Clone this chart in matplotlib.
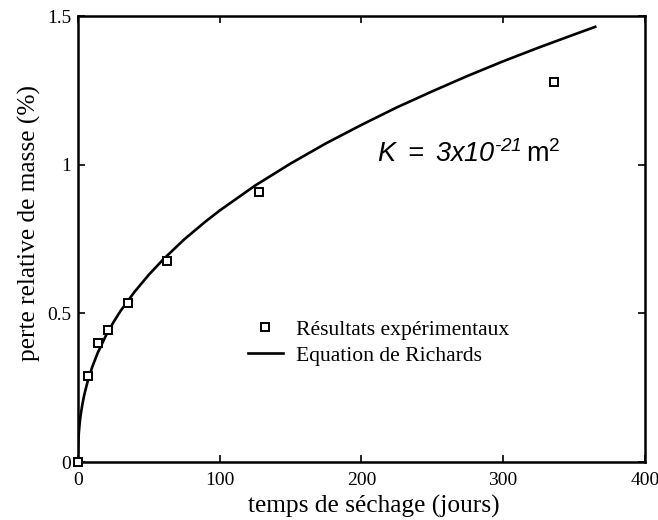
import matplotlib
matplotlib.use("Agg")
import matplotlib.pyplot as plt

# Experimental data
days_exp = [0, 7, 14, 21, 35, 63, 128, 336]
loss_exp = [0.0, 0.29, 0.40, 0.445, 0.535, 0.675, 0.91, 1.28]

# Richards equation curve
days_fit = [0, 0.1, 0.3, 0.6, 1, 1.5, 2, 3, 4, 5, 7, 10, 14, 20, 25, 30, 40, 50, 60, 75,
            90, 100, 125, 150, 175, 200, 225, 250, 275, 300, 325, 350, 365]
loss_fit = [0.0, 0.045, 0.072, 0.097, 0.120, 0.143, 0.161, 0.191, 0.216, 0.237, 0.274,
            0.319, 0.368, 0.428, 0.470, 0.508, 0.573, 0.630, 0.681, 0.749, 0.809, 0.846,
            0.930, 1.004, 1.072, 1.134, 1.193, 1.247, 1.299, 1.348, 1.394, 1.438, 1.464]

x_ticks = [0, 100, 200, 300, 400]
y_ticks = [0, 0.5, 1, 1.5]
y_ticklabels = ["0", "0.5", "1", "1.5"]

plt.rcParams['font.family'] = ['Liberation Serif', 'DejaVu Serif']
plt.rcParams['mathtext.fontset'] = 'custom'
plt.rcParams['mathtext.rm'] = 'Liberation Sans:italic'
plt.rcParams['mathtext.it'] = 'Liberation Sans:italic'
plt.rcParams['mathtext.sf'] = 'Liberation Sans'

fig = plt.figure(figsize=(6.58, 5.2), dpi=100)
ax = fig.add_axes([0.1185, 0.1115, 0.8615, 0.8575])

ax.plot(days_fit, loss_fit, color='black', lw=1.9, label='Equation de Richards', zorder=2)
ax.plot(days_exp, loss_exp, ls='none', marker='s', ms=5.5, mfc='white', mec='black', mew=1.4,
        label='Résultats expérimentaux', zorder=3, clip_on=False)

ax.set_xlim(0, 400)
ax.set_ylim(0, 1.5)
ax.set_xticks(x_ticks)
ax.set_yticks(y_ticks)
ax.set_yticklabels(y_ticklabels)
ax.tick_params(direction='in', length=5, width=1.2, top=True, right=True, labelsize=14)
ax.tick_params(axis='x', pad=7)
ax.tick_params(axis='y', pad=5)
for s in ax.spines.values():
    s.set_linewidth(1.8)

ax.set_xlabel('temps de séchage (jours)', fontsize=18.3)
ax.set_ylabel('perte relative de masse (%)', fontsize=18.3)
ax.xaxis.set_label_coords(0.522, -0.074)
ax.yaxis.set_label_coords(-0.065, 0.535)

ax.text(0.527, 0.673, r'$K\ =\ 3x10^{\text{-21}}\,\mathsf{m}^{\mathsf{2}}$', transform=ax.transAxes,
        fontsize=19.5, ha='left', va='baseline')

h, l = ax.get_legend_handles_labels()
ax.legend([h[1], h[0]], [l[1], l[0]], loc='upper left', bbox_to_anchor=(0.281, 0.343),
          frameon=False, fontsize=15.6, handlelength=1.6, handletextpad=0.6,
          labelspacing=0.25, borderpad=0)

fig.savefig('out.png', dpi=100)
